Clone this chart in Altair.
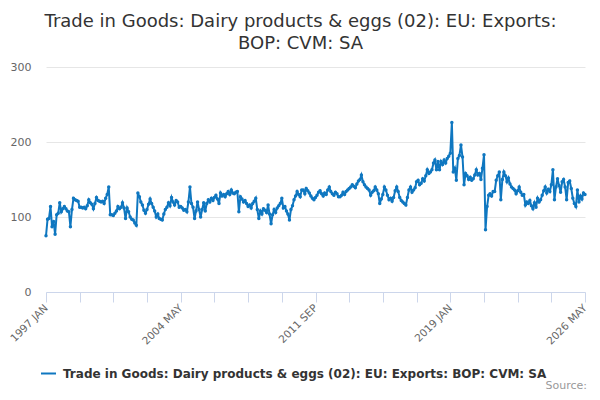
import pandas as pd
import altair as alt

series_name = "Trade in Goods: Dairy products & eggs (02): EU: Exports: BOP: CVM: SA"
title_lines = ["Trade in Goods: Dairy products & eggs (02): EU: Exports:", "BOP: CVM: SA"]
tick_labels = ["1997 JAN", "2004 MAY", "2011 SEP", "2019 JAN", "2026 MAY"]

# monthly values, Jan..Dec
y1997 = [75, 97, 98, 114, 87, 94, 77, 103, 105, 119, 107, 111]
y1998 = [114, 111, 108, 107, 87, 110, 125, 123, 122, 121, 113, 113]
y1999 = [112, 113, 111, 115, 123, 119, 117, 111, 118, 126, 122, 121]
y2000 = [120, 121, 118, 125, 130, 140, 103, 103, 102, 105, 108, 114]
y2001 = [111, 113, 119, 112, 98, 112, 107, 100, 97, 96, 92, 89]
y2002 = [132, 127, 120, 116, 109, 105, 110, 117, 124, 118, 113, 108]
y2003 = [100, 104, 98, 97, 96, 104, 110, 113, 119, 115, 126, 120]
y2004 = [116, 122, 120, 113, 114, 112, 109, 110, 107, 120, 140, 118]
y2005 = [113, 98, 108, 120, 110, 100, 110, 119, 108, 118, 123, 120]
y2006 = [125, 122, 126, 129, 124, 118, 132, 128, 130, 127, 131, 134]
y2007 = [130, 136, 132, 131, 133, 134, 107, 127, 124, 120, 122, 118]
y2008 = [114, 116, 112, 118, 121, 125, 110, 98, 108, 104, 111, 109]
y2009 = [106, 116, 104, 91, 103, 110, 106, 112, 115, 118, 125, 112]
y2010 = [114, 108, 104, 96, 110, 115, 123, 128, 134, 130, 127, 136]
y2011 = [136, 131, 138, 135, 132, 128, 125, 123, 126, 129, 133, 135]
y2012 = [131, 128, 132, 130, 136, 140, 134, 131, 129, 133, 131, 127]
y2013 = [127, 129, 133, 130, 134, 136, 138, 140, 143, 141, 139, 144]
y2014 = [148, 150, 156, 147, 143, 140, 138, 136, 129, 133, 135, 140]
y2015 = [136, 131, 118, 124, 130, 140, 136, 129, 123, 125, 121, 126]
y2016 = [135, 140, 134, 126, 122, 120, 118, 116, 126, 136, 140, 133]
y2017 = [136, 139, 147, 149, 143, 145, 151, 148, 155, 163, 158, 160]
y2018 = [163, 172, 176, 163, 174, 163, 174, 170, 176, 172, 178, 181]
y2019 = [185, 226, 160, 165, 149, 178, 182, 196, 180, 143, 158, 155]
y2020 = [150, 153, 149, 151, 156, 163, 156, 158, 150, 165, 183, 83]
y2021 = [114, 129, 131, 128, 134, 134, 149, 155, 160, 123, 150, 160]
y2022 = [155, 147, 152, 144, 140, 138, 136, 131, 135, 140, 133, 129]
y2023 = [130, 116, 120, 118, 122, 115, 111, 119, 113, 125, 120, 123]
y2024 = [129, 135, 140, 132, 137, 134, 143, 163, 123, 140, 151, 142]
y2025 = [133, 147, 150, 140, 123, 146, 148, 138, 125, 118, 114, 136]
y2026 = [120, 128, 124, 132, 130]

values = (y1997 + y1998 + y1999 + y2000 + y2001 + y2002 + y2003 + y2004 + y2005
          + y2006 + y2007 + y2008 + y2009 + y2010 + y2011 + y2012 + y2013 + y2014
          + y2015 + y2016 + y2017 + y2018 + y2019 + y2020 + y2021 + y2022 + y2023
          + y2024 + y2025 + y2026)
months = pd.date_range("1997-01-01", periods=len(values), freq="MS")

df = pd.DataFrame({"date": months.strftime("%Y-%m-%d"), "value": values, "series": series_name})

# ticks every 22 months, label every 4th
tick_dates = [int(d.value // 10**6) for d in months[::22]]
month_no = "((utcyear(datum.value) - 1997) * 12 + utcmonth(datum.value))"
label_expr = month_no + " % 88 == 0 ? " + str(tick_labels) + "[" + month_no + " / 88] : ''"

font = "DejaVu Sans"
blue = "#0f77c0"

line = alt.Chart(df).mark_line(
    strokeWidth=2,
    point=alt.OverlayMarkDef(size=12, filled=True, color=blue),
).encode(
    x=alt.X("date:T", scale=alt.Scale(type="utc", nice=False, padding=0),
            axis=alt.Axis(title=None, values=tick_dates, labelExpr=label_expr,
                          labelAngle=-45, labelAlign="right", labelBaseline="middle",
                          labelFont=font, labelFontSize=10.5, labelColor="#666666",
                          labelPadding=4, labelOverlap=False, labelBound=False,
                          domainColor="#ccd6eb", tickColor="#ccd6eb", tickSize=10,
                          grid=False)),
    y=alt.Y("value:Q", scale=alt.Scale(domain=[0, 300], nice=False),
            axis=alt.Axis(title=None, values=[0, 100, 200, 300], domain=False, ticks=False,
                          labelFont=font, labelFontSize=11, labelColor="#666666",
                          labelPadding=15, gridColor="#e6e6e6")),
    color=alt.Color("series:N", scale=alt.Scale(range=[blue]),
                    legend=alt.Legend(title=None, orient="none", legendX=-6, legendY=298,
                                      symbolType="stroke", symbolStrokeWidth=2, symbolSize=225,
                                      labelOffset=6,
                                      labelFont=font, labelFontSize=12, labelFontWeight="bold",
                                      labelColor="#333333", labelLimit=600)),
)

source = alt.Chart(pd.DataFrame({"t": ["Source:"]})).mark_text(
    align="right", baseline="bottom", font=font, fontSize=11, color="#999999"
).encode(text="t:N", x=alt.value(541), y=alt.value(324))

chart = alt.layer(line, source).properties(
    width=539,
    height=225,
    autosize=alt.AutoSizeParams(type="none"),
    padding={"left": 38, "top": 59, "right": 7, "bottom": 100},
    title=alt.TitleParams(title_lines, font=font, fontSize=18, fontWeight="normal",
                          color="#333333", anchor="middle", dx=-15, offset=8, lineHeight=22),
).configure_view(stroke=None)

chart.save("out.html", embed_options={"renderer": "svg", "actions": False})
